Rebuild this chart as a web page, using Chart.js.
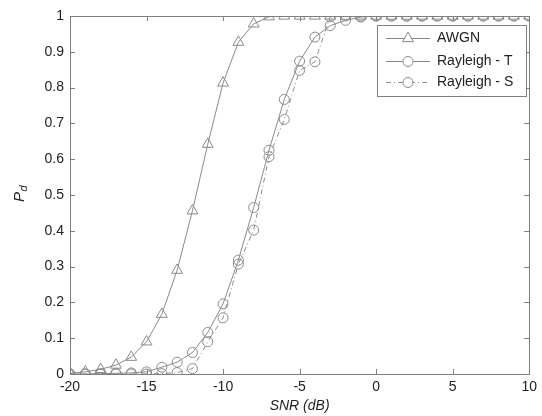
<!DOCTYPE html>
<html><head><meta charset="utf-8">
<script src="https://cdn.jsdelivr.net/npm/chart.js@4"></script>
<style>html,body{margin:0;padding:0;background:#fff}</style>
</head><body>
<canvas id="c" width="542" height="416" style="width:542px;height:416px;display:block"></canvas>
<script>
const snr = [-20,-19,-18,-17,-16,-15,-14,-13,-12,-11,-10,-9,-8,-7,-6,-5,-4,-3,-2,-1,0,1,2,3,4,5,6,7,8,9,10];
const awgn = [0.002,0.006,0.013,0.025,0.047,0.09,0.167,0.29,0.456,0.642,0.813,0.927,0.978,0.998,1,1,1,1,1,1,1,1,1,1,1,1,1,1,1,1,1];
const rayleighT = [0,0,0.001,0.002,0.003,0.006,0.019,0.033,0.06,0.116,0.196,0.318,0.465,0.625,0.767,0.874,0.941,0.973,0.988,0.997,1,1,1,1,1,1,1,1,1,1,1];
const rayleighS = [0,0,0,0,0,0,0.001,0.004,0.015,0.09,0.157,0.307,0.402,0.607,0.711,0.848,0.872,0.998,1,1,1,1,1,1,1,1,1,1,1,1,1];
const seriesLabels = ['AWGN','Rayleigh - T','Rayleigh - S'];
const xTicks = [-20,-15,-10,-5,0,5,10];
const yTicks = [0,0.1,0.2,0.3,0.4,0.5,0.6,0.7,0.8,0.9,1];

const LINE = '#8a8a8a';
const AXIS = '#7f7f7f';
const TXT = '#222';
const FONT = '"Liberation Sans", Arial, sans-serif';

function pts(arr){ return snr.map((x,i)=>({x:x,y:arr[i]})); }

const styles = [
  {pointStyle:'triangle', pointRadius:6.3, borderDash:[]},
  {pointStyle:'circle', pointRadius:5, borderDash:[]},
  {pointStyle:'circle', pointRadius:5, borderDash:[5,3,1,3]}
];
const datasets = [awgn, rayleighT, rayleighS].map((d,i)=>({
  label: seriesLabels[i],
  data: pts(d),
  borderColor: LINE,
  borderWidth: 1,
  borderDash: styles[i].borderDash,
  pointStyle: styles[i].pointStyle,
  pointRadius: styles[i].pointRadius,
  pointBorderColor: LINE,
  pointBackgroundColor: 'rgba(0,0,0,0)',
  pointBorderWidth: 1,
  tension: 0,
  fill: false
}));

const frame = {
  id:'frame',
  afterDraw(chart){
    const ctx = chart.ctx, a = chart.chartArea;
    const xs = chart.scales.x, ys = chart.scales.y;
    ctx.save();
    ctx.strokeStyle = AXIS; ctx.lineWidth = 1;
    ctx.strokeRect(Math.round(a.left)+0.5, Math.round(a.top)+0.5, Math.round(a.right-a.left), Math.round(a.bottom-a.top));
    const L = 5;
    ctx.beginPath();
    xTicks.forEach(v=>{
      const px = Math.round(xs.getPixelForValue(v))+0.5;
      ctx.moveTo(px, a.bottom); ctx.lineTo(px, a.bottom-L);
      ctx.moveTo(px, a.top); ctx.lineTo(px, a.top+L);
    });
    yTicks.forEach(v=>{
      const py = Math.round(ys.getPixelForValue(v))+0.5;
      ctx.moveTo(a.left, py); ctx.lineTo(a.left+L, py);
      ctx.moveTo(a.right, py); ctx.lineTo(a.right-L, py);
    });
    ctx.stroke();

    // y-axis title P_d
    ctx.fillStyle = TXT;
    ctx.translate(20, 194);
    ctx.rotate(-Math.PI/2);
    ctx.textBaseline = 'middle';
    ctx.textAlign = 'left';
    ctx.font = 'italic 15px ' + FONT;
    const wP = ctx.measureText('P').width;
    ctx.font = 'italic 11px ' + FONT;
    const wd = ctx.measureText('d').width;
    const start = -(wP + wd)/2;
    ctx.font = 'italic 15px ' + FONT;
    ctx.fillText('P', start, 0);
    ctx.font = 'italic 11px ' + FONT;
    ctx.fillText('d', start + wP + 0.5, 4);
    ctx.restore();

    // legend
    ctx.save();
    const bx = 377, by = 25, bw = 149, bh = 71;
    ctx.fillStyle = '#fff';
    ctx.fillRect(bx, by, bw, bh);
    ctx.strokeStyle = AXIS; ctx.lineWidth = 1;
    ctx.strokeRect(bx+0.5, by+0.5, bw, bh);
    const rows = [38, 61, 82];
    chart.data.datasets.forEach((ds,i)=>{
      const y = rows[i] + 0.5;
      ctx.strokeStyle = LINE; ctx.lineWidth = 1;
      ctx.setLineDash(ds.borderDash || []);
      ctx.beginPath(); ctx.moveTo(386, y); ctx.lineTo(430, y); ctx.stroke();
      ctx.setLineDash([]);
      ctx.fillStyle = '#fff';
      ctx.strokeStyle = LINE;
      Chart.helpers.drawPoint(ctx, {pointStyle: ds.pointStyle, radius: ds.pointRadius, borderWidth:1}, 408, y);
      ctx.fillStyle = TXT;
      ctx.font = '14px ' + FONT;
      ctx.textBaseline = 'middle'; ctx.textAlign = 'left';
      ctx.fillText(ds.label, 437, rows[i]);
    });
    ctx.restore();
  }
};

new Chart(document.getElementById('c'), {
  type: 'line',
  data: { datasets },
  options: {
    responsive: false,
    devicePixelRatio: 1,
    animation: false,
    events: [],
    layout: { padding: { left: 0, right: 9, top: 16, bottom: 0 } },
    plugins: { legend: { display: false }, tooltip: { enabled: false } },
    scales: {
      x: {
        type: 'linear', min: -20, max: 10,
        afterBuildTicks(s){ s.ticks = xTicks.map(v=>({value:v})); },
        afterFit(s){ s.height = 42; },
        grid: { display: false, drawTicks: false },
        border: { display: false },
        ticks: { padding: 5, color: TXT, font: { family: FONT, size: 14 }, maxRotation: 0, autoSkip: false,
                 callback: v => String(v) },
        title: { display: true, text: 'SNR (dB)', color: TXT, font: { family: FONT, size: 14, style: 'italic' }, padding: { top: 0, bottom: 1 } }
      },
      y: {
        type: 'linear', min: 0, max: 1,
        afterBuildTicks(s){ s.ticks = yTicks.map(v=>({value:v})); },
        afterFit(s){ s.width = 70; },
        grid: { display: false, drawTicks: false },
        border: { display: false },
        ticks: { padding: 6, color: TXT, font: { family: FONT, size: 14 }, autoSkip: false,
                 callback: v => String(Number(v.toFixed(1))) }
      }
    }
  },
  plugins: [frame]
});
</script>
</body></html>
